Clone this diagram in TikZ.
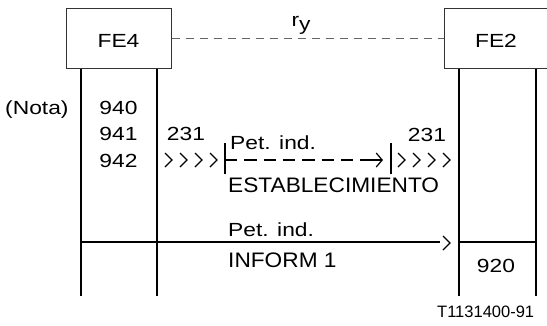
\documentclass[tikz,border=0pt]{standalone}
\usepackage{fontspec}
\setmainfont{Liberation Sans}
\usepackage{graphicx}
\usetikzlibrary{arrows.meta}
\newcommand{\fA}[1]{{\fontsize{19}{21}\selectfont\scalebox{1.2}[1]{#1}}}
\newcommand{\fB}[1]{{\fontsize{21}{23}\selectfont\scalebox{1.08}[1]{#1}}}
\begin{document}
\begin{tikzpicture}[x=1pt,y=-1pt,
  febox/.style={draw=black!80,line width=1pt,minimum width=105pt,minimum height=60pt,inner sep=0pt,text height=18pt,text depth=0pt},
  life/.style={line width=2pt},
  msg/.style={line width=2pt},
  msgdash/.style={line width=2pt,dash pattern=on 12.3pt off 7pt},
  topdash/.style={line width=0.9pt,draw=black!60,dash pattern=on 8pt off 6pt},
  txt/.style={inner sep=0pt,anchor=base west},
  ctxt/.style={inner sep=0pt,anchor=base},
  chev/.pic={\draw[line width=1.2pt,line join=miter] (-3.5,-7) -- (3.5,0) -- (-3.5,7);}
]
\useasboundingbox (0,0) rectangle (547,325);
\fill[white] (0,0) rectangle (547,325);

% boxes
\node[febox] (fe4) at (118.5,38) {\fA{FE4}};
\node[febox,minimum width=104pt] (fe2) at (496,38) {\fA{FE2}};

% lifelines
\coordinate (L1) at (81,296);
\coordinate (L2) at (157,296);
\coordinate (R1) at (459,296);
\coordinate (R2) at (536,296);
\draw[life] (fe4.south -| L1) -- (L1);
\draw[life] (fe4.south -| L2) -- (L2);
\draw[life] (fe2.south -| R1) -- (R1);
\draw[life] (fe2.south -| R2) -- (R2);

% top relation
\draw[topdash] (fe4.east) -- (fe2.west);
\node[ctxt] (ry) at (301,26) {\fA{r\raisebox{-4pt}{y}}};

% left texts
\node[txt] (nota) at (5,114) {\fA{(Nota)}};
\node[ctxt] (n940) at (118.5,114) {\fA{940}};
\node[ctxt] (n941) at (118.5,140.5) {\fA{941}};
\node[ctxt] (n942) at (118.5,167) {\fA{942}};
\node[ctxt] (n231a) at (186,140) {\fA{231}};
\node[ctxt] (n231b) at (427,141) {\fA{231}};

% chevrons
\foreach \x in {168.5,183.5,198.5,213.5,401.5,416.5,431.5,446.5}
  \pic at (\x,160) {chev};

% dashed establishment message
\coordinate (b1t) at (225,143);
\coordinate (b1b) at (225,174);
\coordinate (b2t) at (391,143);
\coordinate (b2b) at (391,174);
\draw[msg] (b1t) -- (b1b);
\draw[msg] (b2t) -- (b2b);
\coordinate (d1) at (225,160);
\coordinate (d3) at (372.3,160);
\coordinate (d4) at (360,160);
\coordinate (d2) at (383,160);
\draw[msgdash] (d1) -- (d3);
\draw[msg,-{Straight Barb[length=6pt,width=14pt,line width=1.2pt]}] (d4) -- (d2);
\node[txt] (pet1) at (230,149) {\fA{Pet. ind.}};
\node[txt] (estab) at (228,192) {\fB{ESTABLECIMIENTO}};

% inform message
\coordinate (h1) at (81,242);
\coordinate (h2) at (440,242);
\draw[msg] (h1) -- (h2);
\pic at (446.5,243) {chev};
\coordinate (c1) at (459,242);
\coordinate (c2) at (536,242);
\draw[msg] (c1) -- (c2);
\node[txt] (pet2) at (228,236) {\fA{Pet. ind.}};
\node[txt] (inform) at (228,267) {\fB{INFORM 1}};
\node[ctxt] (n920) at (496,272) {\fA{920}};

\node[txt] (tref) at (437,317) {\fontsize{16.5}{18}\selectfont T1131400-91};
\end{tikzpicture}
\end{document}
